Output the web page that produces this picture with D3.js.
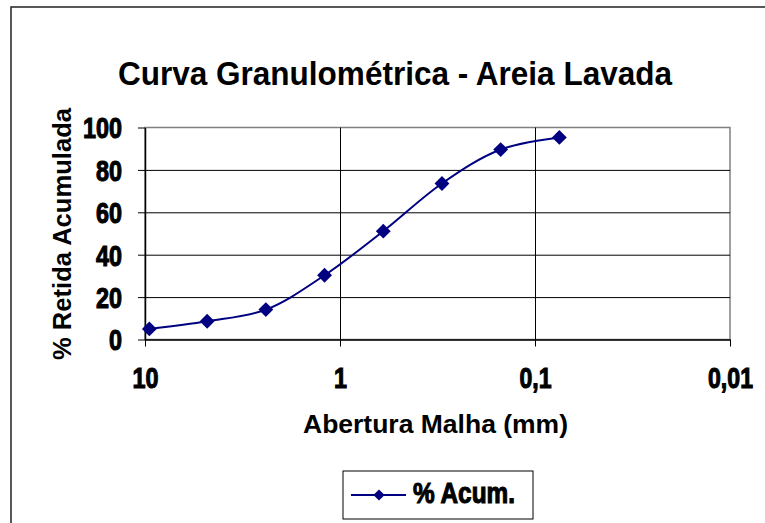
<!DOCTYPE html>
<html>
<head>
<meta charset="utf-8">
<script src="https://cdn.jsdelivr.net/npm/d3@7"></script>
<style>
  body { margin:0; background:#fff; }
  svg { display:block; }
  .tickfont { font-family:"Liberation Sans",Arial,sans-serif; font-weight:bold; font-size:29px; }
  .titlefont { font-family:"Liberation Sans",Arial,sans-serif; font-weight:bold; }
</style>
</head>
<body>
<svg></svg>
<script>
// peneiras (mm) e % retida acumulada
var aberturas = [9.5, 4.8, 2.4, 1.2, 0.6, 0.3, 0.15, 0.075];
var retidaAcum = [5, 8.6, 14.1, 30.3, 51.1, 73.6, 89.6, 95.3];

var xTicks = [10, 1, 0.1, 0.01];
var xTickLabels = ["10", "1", "0,1", "0,01"];
var yTicks = [0, 20, 40, 60, 80, 100];

var titulo = "Curva Granulométrica - Areia Lavada";
var tituloX = "Abertura Malha (mm)";
var tituloY = "% Retida Acumulada";
var legenda = "% Acum.";

var screen = { width: 765, height: 523 };
var plot = { left: 145, right: 730, top: 127.5, bottom: 339.5 };

// largura estreita dos rotulos (fonte condensada do original)
var larguraRotulo = function(s) {
  var n = 0;
  s.split("").forEach(function(c) { n += (c == "," ? 6 : 13); });
  return n;
};

var svg = d3.select("svg")
  .attr("width", screen.width)
  .attr("height", screen.height);

// moldura do grafico (sai pela direita e por baixo)
svg.append("rect")
  .attr("x", 11).attr("y", 7)
  .attr("width", 800).attr("height", 600)
  .attr("fill", "none")
  .attr("stroke", "#222")
  .attr("stroke-width", 1.5);

var xScale = d3.scaleLog()
  .domain([10, 0.01])
  .range([plot.left, plot.right]);
var yScale = d3.scaleLinear()
  .domain([0, 100])
  .range([plot.bottom, plot.top]);

var w = plot.right - plot.left;
var h = plot.bottom - plot.top;

// borda da area de plotagem (cinza)
svg.append("rect")
  .attr("x", plot.left).attr("y", plot.top)
  .attr("width", w).attr("height", h)
  .attr("fill", "none")
  .attr("stroke", "#808080")
  .attr("stroke-width", 1.5);

// grades horizontais
svg.append("g")
  .attr("transform", "translate(" + plot.left + ",0)")
  .call(d3.axisLeft(yScale).tickValues([20, 40, 60, 80]).tickSize(-w).tickFormat(""))
  .call(function(g) {
    g.select(".domain").remove();
    g.selectAll("line").attr("stroke", "#000").attr("stroke-width", 1);
  });

// grades verticais
svg.append("g")
  .attr("transform", "translate(0," + plot.top + ")")
  .call(d3.axisTop(xScale).tickValues([1, 0.1]).tickSize(-h).tickFormat(""))
  .call(function(g) {
    g.select(".domain").remove();
    g.selectAll("line").attr("stroke", "#000").attr("stroke-width", 1);
  });

// eixo y
var yAxis = svg.append("g")
  .attr("transform", "translate(" + plot.left + ",0)")
  .call(d3.axisLeft(yScale).tickValues(yTicks).tickSize(7).tickSizeOuter(0).tickPadding(16));
yAxis.select(".domain").attr("stroke", "#000").attr("stroke-width", 1.5);
yAxis.selectAll("line").attr("stroke", "#000").attr("stroke-width", 1);
yAxis.selectAll("text")
  .attr("class", "tickfont")
  .attr("fill", "#000")
  .attr("stroke", "#000")
  .attr("stroke-width", 1.1)
  .attr("dy", "0.36em")
  .attr("textLength", function() { return larguraRotulo(this.textContent); })
  .attr("lengthAdjust", "spacingAndGlyphs");
yAxis.attr("font-size", null).attr("font-family", null);

// eixo x
var xAxis = svg.append("g")
  .attr("transform", "translate(0," + plot.bottom + ")")
  .call(d3.axisBottom(xScale).tickValues(xTicks).tickSize(7).tickSizeOuter(0).tickPadding(0)
    .tickFormat(function(d, i) { return xTickLabels[i]; }));
xAxis.select(".domain").attr("stroke", "#000").attr("stroke-width", 1.5);
xAxis.selectAll("line").attr("stroke", "#000").attr("stroke-width", 1);
xAxis.selectAll("text")
  .attr("class", "tickfont")
  .attr("fill", "#000")
  .attr("stroke", "#000")
  .attr("stroke-width", 1.1)
  .attr("y", 48.5)
  .attr("dy", 0)
  .attr("textLength", function() { return larguraRotulo(this.textContent); })
  .attr("lengthAdjust", "spacingAndGlyphs");
xAxis.attr("font-size", null).attr("font-family", null);

// curva suavizada
var linha = d3.line()
  .x(function(d) { return xScale(d.abertura); })
  .y(function(d) { return yScale(d.retida); })
  .curve(d3.curveCatmullRom.alpha(0.5));

var dados = aberturas.map(function(a, i) { return { abertura: a, retida: retidaAcum[i] }; });

svg.append("path")
  .datum(dados)
  .attr("d", linha)
  .attr("fill", "none")
  .attr("stroke", "#000080")
  .attr("stroke-width", 2);

var diamante = d3.symbol().type(d3.symbolDiamond2).size(140);
svg.selectAll(".ponto")
  .data(dados)
  .enter()
  .append("path")
  .attr("class", "ponto")
  .attr("d", diamante)
  .attr("transform", function(d) { return "translate(" + xScale(d.abertura) + "," + yScale(d.retida) + ")"; })
  .attr("fill", "#000080");

// titulos
svg.append("text")
  .attr("class", "titlefont")
  .attr("x", 395).attr("y", 85)
  .attr("text-anchor", "middle")
  .attr("font-size", 34)
  .attr("textLength", 554)
  .attr("lengthAdjust", "spacingAndGlyphs")
  .text(titulo);

svg.append("text")
  .attr("class", "titlefont")
  .attr("x", 435.5).attr("y", 433)
  .attr("text-anchor", "middle")
  .attr("font-size", 25)
  .attr("textLength", 265)
  .attr("lengthAdjust", "spacingAndGlyphs")
  .text(tituloX);

svg.append("text")
  .attr("class", "titlefont")
  .attr("transform", "translate(71,234) rotate(-90)")
  .attr("text-anchor", "middle")
  .attr("font-size", 25)
  .attr("textLength", 252)
  .attr("lengthAdjust", "spacingAndGlyphs")
  .text(tituloY);

// legenda
var leg = svg.append("g");
leg.append("rect")
  .attr("x", 343).attr("y", 471)
  .attr("width", 190).attr("height", 48)
  .attr("fill", "#fff")
  .attr("stroke", "#000")
  .attr("stroke-width", 1);
leg.append("line")
  .attr("x1", 351).attr("x2", 406)
  .attr("y1", 495).attr("y2", 495)
  .attr("stroke", "#000080")
  .attr("stroke-width", 2);
leg.append("path")
  .attr("d", d3.symbol().type(d3.symbolDiamond2).size(80))
  .attr("transform", "translate(379,495)")
  .attr("fill", "#000080");
leg.append("text")
  .attr("class", "tickfont")
  .attr("x", 413).attr("y", 503)
  .attr("stroke", "#000")
  .attr("stroke-width", 1.1)
  .attr("textLength", 102)
  .attr("lengthAdjust", "spacingAndGlyphs")
  .text(legenda);
</script>
</body>
</html>
